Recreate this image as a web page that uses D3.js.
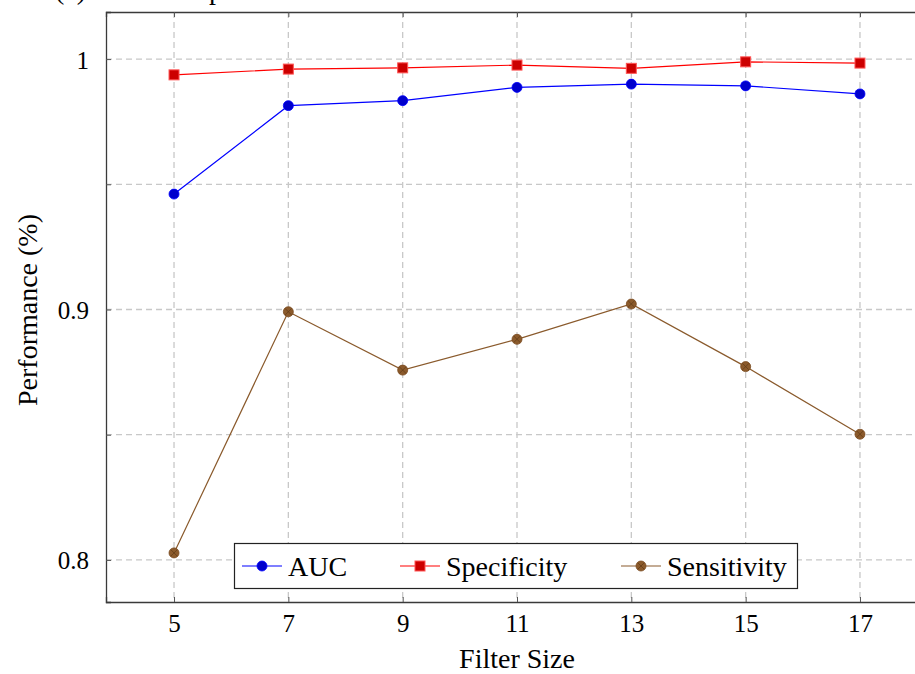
<!DOCTYPE html>
<html><head><meta charset="utf-8">
<script src="https://cdn.jsdelivr.net/npm/d3@7"></script>
<style>body{margin:0;background:#fff}svg{display:block}text{font-family:"Liberation Serif","Times New Roman",serif;fill:#000}</style>
</head><body><svg id="c" width="915" height="674"></svg>
<script>
const filterSizes = [5, 7, 9, 11, 13, 15, 17];
const auc = [0.9461, 0.9814, 0.9834, 0.9887, 0.9900, 0.9893, 0.9861];
const specificity = [0.9937, 0.9960, 0.9965, 0.9976, 0.9963, 0.9989, 0.9984];
const sensitivity = [0.8028, 0.8991, 0.8758, 0.8881, 0.9022, 0.8772, 0.8502];
const yTicks = [0.8, 0.85, 0.9, 0.95, 1];
const yLabelled = [0.8, 0.9, 1];
const seriesNames = ["AUC", "Specificity", "Sensitivity"];

const svg = d3.select("#c");
const L = 106, T = 12, B = 602, R = 928;
const x = d3.scaleLinear().domain([3.81, 18.19]).range([L, R]);
const y = d3.scaleLinear().domain([0.7832, 1.0188]).range([B, T]);

// title (cropped at top)
svg.append("text").attr("x", 55).attr("y", -1).attr("font-size", 28).text("(a) Filter comparison");

// grid
const grid = svg.append("g").attr("stroke", "#c8c8c8").attr("stroke-width", 1.3).attr("stroke-dasharray", "6,4");
grid.selectAll("line.h").data(yTicks).join("line").attr("x1", L).attr("x2", R).attr("y1", d => y(d)).attr("y2", d => y(d));
grid.selectAll("line.v").data(filterSizes).join("line").attr("y1", T).attr("y2", B).attr("x1", d => x(d)).attr("x2", d => x(d));

// axes
const xAxis = d3.axisBottom(x).tickValues(filterSizes).tickSize(-5).tickPadding(12).tickFormat(d3.format("d"));
const gx = svg.append("g").attr("transform", `translate(0,${B})`).call(xAxis);
const xTop = d3.axisTop(x).tickValues(filterSizes).tickSize(-5).tickFormat("");
const gxt = svg.append("g").attr("transform", `translate(0,${T})`).call(xTop);
const yAxis = d3.axisLeft(y).tickValues(yTicks).tickSize(-5).tickPadding(17)
  .tickFormat(d => yLabelled.some(v => Math.abs(v - d) < 1e-9) ? (d === 1 ? "1" : String(d)) : "");
const gy = svg.append("g").attr("transform", `translate(${L},0)`).call(yAxis);
[gx, gxt, gy].forEach(g => {
  g.select(".domain").attr("stroke", "#3a3a3a").attr("stroke-width", 1.3);
  g.selectAll(".tick line").attr("stroke", "#555").attr("stroke-width", 1);
  g.selectAll(".tick text").attr("font-size", 25).attr("font-family", "Liberation Serif").attr("fill", "#000");
});
gy.selectAll(".tick text").attr("dy", "0.36em");

// axis labels
svg.append("text").attr("x", x(11)).attr("y", 668).attr("text-anchor", "middle").attr("font-size", 28).text("Filter Size");
svg.append("text").attr("transform", `translate(37,${310}) rotate(-90)`).attr("text-anchor", "middle").attr("font-size", 28).text("Performance (%)");

const styles = [
  {line: "#0000ff", fill: "#0000cc", stroke: "#0000ff", shape: "circle"},
  {line: "#ff0000", fill: "#cc0000", stroke: "#ff5555", shape: "square"},
  {line: "#8a5a2c", fill: "#8b5a2b", stroke: "#7a4a20", shape: "otimes"}
];
const data = [auc, specificity, sensitivity];
const lineGen = d3.line().x(d => x(d[0])).y(d => y(d[1]));

function marker(g, cx, cy, s) {
  if (s.shape === "circle") {
    g.append("circle").attr("cx", cx).attr("cy", cy).attr("r", 5).attr("fill", s.fill).attr("stroke", s.stroke).attr("stroke-width", 0.8);
  } else if (s.shape === "square") {
    g.append("rect").attr("x", cx - 5).attr("y", cy - 5).attr("width", 10).attr("height", 10).attr("fill", s.fill).attr("stroke", s.stroke).attr("stroke-width", 1);
  } else {
    g.append("circle").attr("cx", cx).attr("cy", cy).attr("r", 5).attr("fill", s.fill).attr("stroke", s.stroke).attr("stroke-width", 0.8);
    const k = 3.3;
    g.append("path").attr("d", `M${cx-k},${cy-k}L${cx+k},${cy+k}M${cx-k},${cy+k}L${cx+k},${cy-k}`).attr("stroke", "#5e3a16").attr("stroke-width", 0.7);
  }
}

data.forEach((vals, i) => {
  const pts = filterSizes.map((f, j) => [f, vals[j]]);
  const s = styles[i];
  svg.append("path").datum(pts).attr("d", lineGen).attr("fill", "none").attr("stroke", s.line).attr("stroke-width", 1.2);
  const g = svg.append("g");
  pts.forEach(p => marker(g, x(p[0]), y(p[1]), s));
});

// legend
const lg = svg.append("g");
lg.append("rect").attr("x", 234.5).attr("y", 543.5).attr("width", 563).attr("height", 45).attr("fill", "#fff").attr("stroke", "#222").attr("stroke-width", 1.2);
const lx = [242, 400, 621];
seriesNames.forEach((n, i) => {
  const s = styles[i];
  lg.append("line").attr("x1", lx[i]).attr("x2", lx[i] + 40).attr("y1", 566).attr("y2", 566).attr("stroke", s.line).attr("stroke-width", 1.2);
  marker(lg, lx[i] + 20, 566, s);
  lg.append("text").attr("x", lx[i] + 46).attr("y", 576).attr("font-size", 28).text(n);
});
</script></body></html>
